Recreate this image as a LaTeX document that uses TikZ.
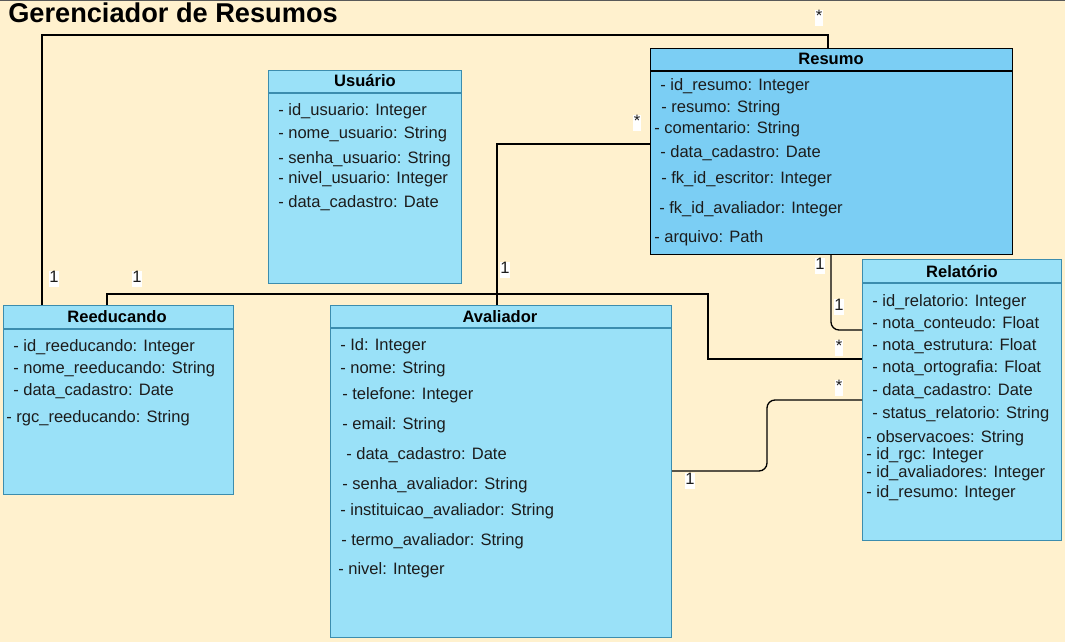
\documentclass[tikz,border=0pt]{standalone}
\usepackage{fontspec}
\setmainfont{Liberation Sans}
\definecolor{bg}{HTML}{FFF1CE}
\definecolor{boxfill}{HTML}{9AE1F8}
\definecolor{resfill}{HTML}{7BCEF4}
\definecolor{boxline}{HTML}{3C8DAE}
\definecolor{txt}{HTML}{1C1C1C}
\tikzset{
  cls/.style={draw=boxline, fill=boxfill, line width=0.9pt, anchor=north west, inner sep=0pt},
  attr/.style={anchor=base west, inner sep=0pt, font=\fontsize{12.4}{14}\selectfont, text=txt},
  ttl/.style={anchor=base, inner sep=0pt, font=\bfseries\fontsize{12.4}{14}\selectfont, text=black},
  mult/.style={fill=white, inner sep=0.6pt, text height=0.75em, text depth=0.28em, font=\fontsize{12.4}{14}\selectfont, text=txt},
  conn/.style={draw=black, line width=1pt},
  hdr/.style={draw=boxline, line width=0.9pt},
}
\begin{document}
\begin{tikzpicture}[x=0.75pt,y=-0.75pt]
\fill[bg] (0,0) rectangle (1065,642);
\useasboundingbox (0,0) rectangle (1065,642);
\draw[gray!70!black, line width=1pt] (0,0.5) -- (1065,0.5);

\node[anchor=base west, inner sep=0pt, font=\bfseries\fontsize{20.4}{24}\selectfont] (title) at (8,23) {Gerenciador de Resumos};

% boxes
\node[cls, fill=resfill, draw=black, minimum width=271.5pt, minimum height=154.5pt] (resumo) at (650,48) {};
\node[cls, minimum width=144.75pt, minimum height=159.75pt] (usuario) at (268,70) {};
\node[cls, minimum width=172.5pt, minimum height=141.75pt] (reed) at (3,305) {};
\node[cls, minimum width=255.75pt, minimum height=249pt] (aval) at (330,305) {};
\node[cls, minimum width=149.25pt, minimum height=210.75pt] (relat) at (862,259) {};

% header lines
\draw[hdr, draw=black] (resumo.west |- 0,71) -- (resumo.east |- 0,71);
\draw[hdr] (usuario.west |- 0,93) -- (usuario.east |- 0,93);
\draw[hdr] (reed.west |- 0,329) -- (reed.east |- 0,329);
\draw[hdr] (aval.west |- 0,328) -- (aval.east |- 0,328);
\draw[hdr] (relat.west |- 0,283) -- (relat.east |- 0,283);

% connectors
\draw[conn] (42,0 |- reed.north) -- (42,35) -- (828,35) -- (828,0 |- resumo.north);
\draw[conn] (107,0 |- reed.north) -- (107,294) -- (708,294) -- (708,359) -- (relat.west |- 0,359);
\draw[conn] (497,0 |- aval.north) -- (497,144) -- (resumo.west |- 0,144);
\draw[conn, rounded corners=6pt] (831,0 |- resumo.south) -- (831,330) -- (relat.west |- 0,330);
\draw[conn, rounded corners=6pt] (aval.east |- 0,471) -- (767,471) -- (767,400) -- (relat.west |- 0,400);

% multiplicities
\node[mult] (m1) at (54,279) {1};
\node[mult] (m2) at (137,279) {1};
\node[mult] (m3) at (819,18) {*};
\node[mult] (m4) at (637,123) {*};
\node[mult] (m5) at (505,270) {1};
\node[mult] (m6) at (820,266) {1};
\node[mult] (m7) at (839,307) {1};
\node[mult] (m8) at (839,348) {*};
\node[mult] (m9) at (839,388) {*};
\node[mult] (m10) at (690,481) {1};

% Resumo
\node[ttl] (rt) at (831,65) {Resumo};
\node[attr] (ra1) at (660,91) {- id\_resumo: Integer};
\node[attr] (ra2) at (661,113) {- resumo: String};
\node[attr] (ra3) at (654,134) {- comentario: String};
\node[attr] (ra4) at (660,157) {- data\_cadastro: Date};
\node[attr] (ra5) at (661,183) {- fk\_id\_escritor: Integer};
\node[attr] (ra6) at (659,213) {- fk\_id\_avaliador: Integer};
\node[attr] (ra7) at (654,243) {- arquivo: Path};

% Usuario
\node[ttl] (ut) at (365,87) {Usuário};
\node[attr] (ua1) at (278,116) {- id\_usuario: Integer};
\node[attr] (ua2) at (278,138) {- nome\_usuario: String};
\node[attr] (ua3) at (278,163) {- senha\_usuario: String};
\node[attr] (ua4) at (278,184) {- nivel\_usuario: Integer};
\node[attr] (ua5) at (278,207) {- data\_cadastro: Date};

% Reeducando
\node[ttl] (et) at (117,322) {Reeducando};
\node[attr] (ea1) at (13,351) {- id\_reeducando: Integer};
\node[attr] (ea2) at (13,373) {- nome\_reeducando: String};
\node[attr] (ea3) at (13,395) {- data\_cadastro: Date};
\node[attr] (ea4) at (6,422) {- rgc\_reeducando: String};

% Avaliador
\node[ttl] (at) at (500,322) {Avaliador};
\node[attr] (aa1) at (340,350) {- Id: Integer};
\node[attr] (aa2) at (340,373) {- nome: String};
\node[attr] (aa3) at (342,399) {- telefone: Integer};
\node[attr] (aa4) at (342,429) {- email: String};
\node[attr] (aa5) at (346,459) {- data\_cadastro: Date};
\node[attr] (aa6) at (342,489) {- senha\_avaliador: String};
\node[attr] (aa7) at (340,515) {- instituicao\_avaliador: String};
\node[attr] (aa8) at (341,545) {- termo\_avaliador: String};
\node[attr] (aa9) at (338,574) {- nivel: Integer};

% Relatorio
\node[ttl] (lt) at (962,277) {Relatório};
\node[attr] (la1) at (872,306) {- id\_relatorio: Integer};
\node[attr] (la2) at (872,328) {- nota\_conteudo: Float};
\node[attr] (la3) at (872,350) {- nota\_estrutura: Float};
\node[attr] (la4) at (872,372) {- nota\_ortografia: Float};
\node[attr] (la5) at (872,395) {- data\_cadastro: Date};
\node[attr] (la6) at (872,418) {- status\_relatorio: String};
\node[attr] (la7) at (866,442) {- observacoes: String};
\node[attr] (la8) at (866,459) {- id\_rgc: Integer};
\node[attr] (la9) at (866,477) {- id\_avaliadores: Integer};
\node[attr] (la10) at (866,497) {- id\_resumo: Integer};
\end{tikzpicture}
\end{document}
